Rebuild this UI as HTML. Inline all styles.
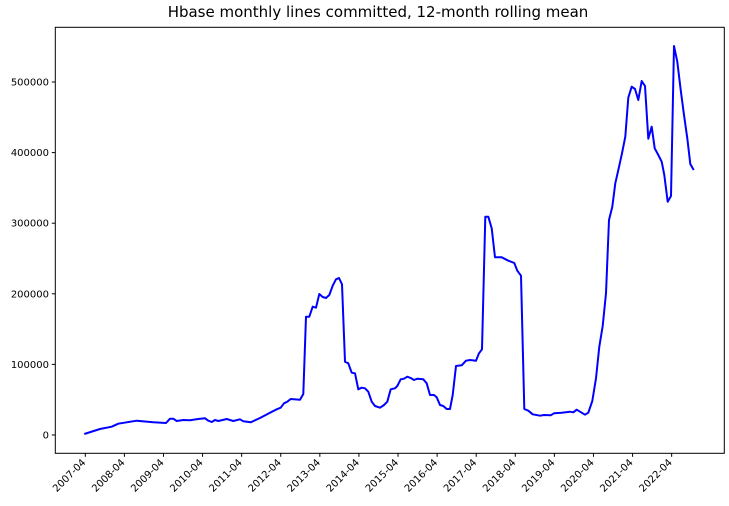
<!DOCTYPE html>
<html><head><meta charset="utf-8"><style>
html,body{margin:0;padding:0;background:#fff;}
svg{display:block;font-family:"DejaVu Sans","Liberation Sans",sans-serif;}
</style></head><body>
<svg width="729" height="506" viewBox="0 0 729 506" xmlns="http://www.w3.org/2000/svg">
<rect width="729" height="506" fill="#fff"/>
<text x="378" y="17" text-anchor="middle" font-size="15" fill="#000">Hbase monthly lines committed, 12-month rolling mean</text>
<polyline fill="none" stroke="#0000ff" stroke-width="2" stroke-linejoin="round" points="84.3,434 100,429 111.7,426.7 118.3,423.7 126.7,422.3 136.7,420.7 153.3,422.3 166,423 170,418.7 173.3,418.7 176.7,421 183.3,420 190,420.3 198.3,419 205,418.3 208.3,420.7 211.7,422 215,420 218.3,421 226.7,419 233.3,421 240,419.3 243.3,421.3 250.7,422.3 260,418 270,412.7 276.7,409.3 280.7,407.7 284,403.3 287.3,401.7 290.7,399 300,399.7 303.3,394 306,316.7 309.3,316.7 312.7,306.7 316,307.7 319.3,294 322.7,297 326,298 329.3,295 332.7,285.7 336,279.3 339,278 342,284.3 345,361.7 348.3,363.3 351.7,372.7 355,373.3 358.3,389.3 361.7,387.7 365,388.3 368.3,391.7 371.7,401.7 375,406 380,407.7 384,405 387.3,401.7 390.7,389.3 395,388.3 397.3,386 400.7,379.3 404,378.7 407.3,376.7 410.7,378 414,380 417.3,378.7 423.3,379.3 426.7,383.3 430,395 434,395 436.7,397.3 440,405 443.3,406 446.7,409 450,409 452.7,395 456,366 461.7,365.3 466,360.7 470,360 476,360.7 479,353.3 482,349.3 485.3,216.7 488.3,216.7 491.7,228.3 495,257.3 501.7,257.3 508.3,260.7 514.3,263 517.3,270.7 521,275.7 524.3,409 528.3,410.7 532.7,414.3 540,415.7 544,415 550.7,415.3 554,413.3 561.7,412.7 570,411.7 573.3,412.3 576.7,409.7 580,411.7 585,414.7 588.3,412.7 592.3,401 596,378.3 599.3,346.7 602.7,326 606,293.3 609,220 612.3,206.7 615.3,183.3 618.7,168.3 622,153.3 625.3,136.7 628.3,97.7 631.7,86.7 635,89 638.3,100 641.7,81 645,86 648.3,138.7 651.7,126.7 654.7,148.3 658.3,155 661.7,161.7 664.3,175 667.7,201.7 671,196 674,46 677.3,61.7 680.7,90 684,115 687.3,138.3 690.3,164 693.7,170"/>
<rect x="55.3" y="27.3" width="669" height="426" fill="none" stroke="#000" stroke-width="1"/>
<g font-size="10" fill="#000" text-anchor="end" stroke="none">
<g stroke="#000"><line x1="51.8" x2="55.3" y1="435" y2="435"/><line x1="51.8" x2="55.3" y1="364.4" y2="364.4"/><line x1="51.8" x2="55.3" y1="293.8" y2="293.8"/><line x1="51.8" x2="55.3" y1="223.2" y2="223.2"/><line x1="51.8" x2="55.3" y1="152.6" y2="152.6"/><line x1="51.8" x2="55.3" y1="82" y2="82"/></g>
<text x="49" y="438.5">0</text><text x="49" y="367.9">100000</text><text x="49" y="297.3">200000</text><text x="49" y="226.7">300000</text><text x="49" y="156.1">400000</text><text x="49" y="85.5">500000</text>
</g>
<g font-size="10" fill="#000" text-anchor="end" id="xt"></g>
<script>
var g=document.getElementById('xt'),ns='http://www.w3.org/2000/svg';
for(var i=0;i<16;i++){var x=85.3+i*39.09;
var l=document.createElementNS(ns,'line');l.setAttribute('x1',x);l.setAttribute('x2',x);l.setAttribute('y1',453.3);l.setAttribute('y2',456.8);l.setAttribute('stroke','#000');g.appendChild(l);
var t=document.createElementNS(ns,'text');t.setAttribute('transform','translate('+(x+1)+',463) rotate(-45)');t.textContent=(2007+i)+'-04';g.appendChild(t);}
</script>
</svg>
</body></html>
